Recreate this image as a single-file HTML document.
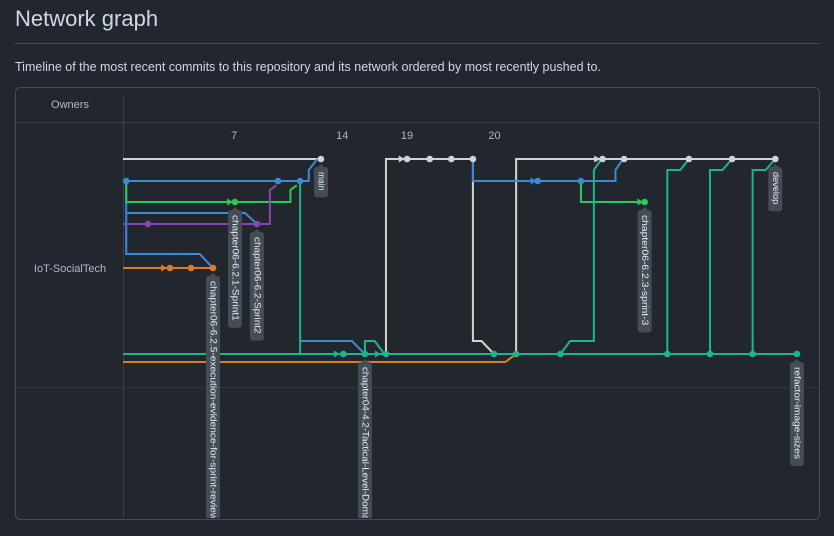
<!DOCTYPE html>
<html><head><meta charset="utf-8">
<style>
body{margin:0;background:#22272e;font-family:"Liberation Sans",sans-serif;color:#adbac7;width:834px;height:536px;overflow:hidden;position:relative}
#title{position:absolute;left:15px;top:6px;font-size:22px;color:#cdd9e5}
#hr{position:absolute;left:15px;top:43px;width:805px;height:1px;background:#444c56}
#sub{position:absolute;left:15px;top:60px;font-size:12.5px;color:#cdd9e5}
svg{position:absolute;left:0;top:0}
</style></head><body>
<div id="title">Network graph</div>
<div id="hr"></div>
<div id="sub">Timeline of the most recent commits to this repository and its network ordered by most recently pushed to.</div>
<svg id="g" width="834" height="536">
<defs><clipPath id="cp"><rect x="0" y="0" width="834" height="518"/></clipPath></defs>
<rect x="15.5" y="87.5" width="804" height="432" rx="5" fill="#22272e" stroke="#444c56"/>
<line x1="16" y1="122.5" x2="819" y2="122.5" stroke="#3a4049"/>
<line x1="16" y1="387.5" x2="819" y2="387.5" stroke="#30363d"/>
<line x1="123.5" y1="96" x2="123.5" y2="518" stroke="#3a4049"/>
<text x="70" y="108" font-size="11" fill="#adbac7" text-anchor="middle">Owners</text>
<text x="70" y="272" font-size="11" fill="#adbac7" text-anchor="middle">IoT-SocialTech</text>
<g id="tags" clip-path="url(#cp)"></g>
</svg>
<script>
const dayLabels=['7','14','19','20'];
const dayCols=[10.3,20.3,26.3,34.4];
const rowYs=[159,181,202,213,224,254,268,354,362,341,170,190];
const C={w:'#d0d3d6',b:'#3a8ad6',g:'#2fc65b',p:'#8b43b8',o:'#e07b22',t:'#1fb58a'};
const lines=[
['b',[[0.3,1],[0.3,5],[7.1,5],[8.33,6]]],
['t',[[16.4,1],[16.4,7]]],
['w',[[0,0],[18.33,0]]],
['b',[[0.3,1],[17.2,1],[17.2,10],[18.0,0]]],
['g',[[0.3,1],[0.3,2],[15.5,2],[15.5,11],[16.1,1.2]]],
['b',[[0.3,3],[11.3,3],[12.4,4]]],
['p',[[0,4],[13.6,4],[13.6,11],[14.2,1.2]]],
['o',[[0,6],[8.33,6]]],
['o',[[0,8],[35.4,8],[36.4,7]]],
['w',[[24.35,7],[24.35,0],[32.4,0]]],
['w',[[32.4,0],[32.4,9],[33.2,9],[34.35,7]]],
['w',[[36.4,7],[36.4,0],[60.4,0]]],
['b',[[32.4,0],[32.4,1],[45.6,1],[45.6,10],[46.3,0]]],
['g',[[42.4,1],[42.4,2],[48.3,2]]],
['t',[[40.5,7],[41.4,9],[43.6,9],[43.6,10],[44.3,0]]],
['t',[[50.4,7],[50.4,10],[51.6,10],[52.4,0]]],
['t',[[54.35,7],[54.35,10],[55.5,10],[56.4,0]]],
['t',[[58.3,7],[58.3,10],[59.5,10],[60.4,0]]],
['t',[[0,7],[62.4,7]]],
['b',[[16.4,9],[21.2,9],[22.4,7]]],
['t',[[22.4,7],[22.4,9],[23.3,9],[24.2,7]]]
];
const dotCols=[18.33,26.3,28.4,30.4,32.4,44.4,46.4,52.4,56.4,60.4, 0.3,14.35,16.4,38.4,42.4, 10.37,48.3, 2.3,12.4, 4.35,6.3,8.33, 20.4,22.4,24.35,34.35,36.4,40.5,50.4,54.35,58.3,62.4];
const dotRows=[0,0,0,0,0,0,0,0,0,0, 1,1,1,1,1, 2,2, 4,4, 6,6,6, 7,7,7,7,7,7,7,7,7,7];
const dotColors=['w','w','w','w','w','w','w','w','w','w','b','b','b','b','b','g','g','p','p','o','o','o','t','t','t','t','t','t','t','t','t','t'];
const arrowCols=[3.9,10.0,19.9,23.7,25.9,44.0,38.1,48.0];
const arrowRows=[6,2,7,7,0,0,1,2];
const arrowColors=['o','g','t','t','w','w','b','g'];
const tagNames=['main','develop','chapter06-6.2.1-Sprint1','chapter06-6.2-Sprint2','chapter06-6.2.5-execution-evidence-for-sprint-review','chapter04-4.2-Tactical-Level-Domain','chapter06-6.2.3-sprint-3','refactor-image-sizes'];
const tagCols=[18.33,60.4,10.37,12.4,8.33,22.4,48.3,62.4];
const tagRows=[0,0,2,4,6,7,2,7];
const X=c=>123+c*10.8, Y=r=>Number.isInteger(r)?rowYs[r]:rowYs[Math.floor(r)]+(rowYs[Math.floor(r)+1]-rowYs[Math.floor(r)])*(r-Math.floor(r));
const svg=document.getElementById('g');const tg=document.getElementById('tags');const NS='http://www.w3.org/2000/svg';
function mk(t,a,par){const e=document.createElementNS(NS,t);for(const k in a)e.setAttribute(k,a[k]);(par||svg).appendChild(e);return e;}
dayLabels.forEach((d,i)=>{const e=mk('text',{x:X(dayCols[i]),y:139,'font-size':11,fill:'#adbac7','text-anchor':'middle'});e.textContent=d;

});
lines.forEach(([c,pts])=>{const e=mk('polyline',{points:pts.map(p=>X(p[0])+','+Y(p[1])).join(' '),fill:'none',stroke:C[c],'stroke-width':2});

});
arrowCols.forEach((c,i)=>{const x=X(c),y=Y(arrowRows[i]);const e=mk('polygon',{points:`${x-4},${y-3.5} ${x+2},${y} ${x-4},${y+3.5}`,fill:C[arrowColors[i]]});

});
dotCols.forEach((c,i)=>{const e=mk('circle',{cx:X(c),cy:Y(dotRows[i]),r:3.3,fill:C[dotColors[i]]});

});
svg.appendChild(tg);
tagNames.forEach((n,i)=>{const x=X(tagCols[i]),y=Y(tagRows[i])+6;const tl=n.length*4.6;const len=tl+12;
const r=mk('rect',{x:x-7,y:y+2,width:14,height:len,rx:3,fill:'#444c56'},tg);


const p=mk('polygon',{points:`${x-4},${y+3} ${x},${y-1} ${x+4},${y+3}`,fill:'#444c56'},tg);


const t=mk('text',{x:x,y:y+7,'font-size':9.5,fill:'#e6edf3',textLength:tl,lengthAdjust:'spacingAndGlyphs',transform:`rotate(90 ${x} ${y+7})`,'dominant-baseline':'middle'},tg);t.textContent=n;

});
</script>
</body></html>
